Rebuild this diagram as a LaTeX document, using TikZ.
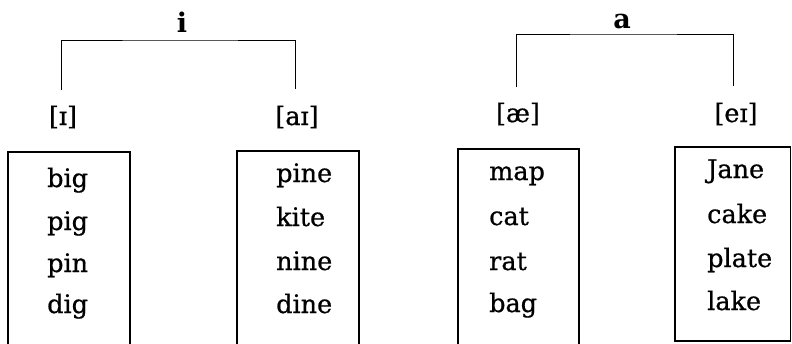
\documentclass[tikz,border=0pt]{standalone}
\usepackage{fontspec}
\setmainfont{DejaVu Serif}
% slightly heavier face for the word lists and sound labels
\newfontfamily\wordface{DejaVu Serif}[FakeBold=0.7]
\begin{document}
\begin{tikzpicture}[x=1pt,y=-1pt,
  frame/.style={line width=1.2pt},
  bracket/.style={line width=1pt},
  word/.style={anchor=base west, inner sep=0pt, font=\wordface\fontsize{25.5}{30}\selectfont},
  sound/.style={inner sep=0pt, font=\wordface\fontsize{25.5}{30}\selectfont},
  letter/.style={anchor=base, inner sep=0pt, font=\fontsize{27}{32}\selectfont\bfseries}]
\useasboundingbox (0,0) rectangle (792,343);

% spelling letters at the top
\node[letter] (li) at (182,32) {i};
\node[letter] (la) at (622,28) {a};

% sound labels
\node[sound] (s1) at (63,117) {[ɪ]};
\node[sound] (s2) at (297,117) {[aɪ]};
\node[sound] (s3) at (518,114) {[æ]};
\node[sound] (s4) at (736,114) {[eɪ]};

% brackets joining each letter to its two sounds
\coordinate (iT) at (182,40);
\coordinate (iL) at (61,90);
\coordinate (iR) at (295,89);
\draw[bracket] (iL) |- (iT) -| (iR);
\coordinate (aT) at (622,34);
\coordinate (aL) at (516,87);
\coordinate (aR) at (733,86);
\draw[bracket] (aL) |- (aT) -| (aR);

% word boxes
\draw[frame] (8,344) |- (130,152) -- (130,344);
\draw[frame] (237,344) |- (359,151) -- (359,344);
\draw[frame] (458,344) |- (579,149) -- (579,344);
\draw[frame] (675,147) rectangle (790.5,341);

% words
\node[word] (w11) at (47,187) {big};
\node[word] (w12) at (47,230) {pig};
\node[word] (w13) at (47,272) {pin};
\node[word] (w14) at (47,313) {dig};

\node[word] (w21) at (276,182) {pine};
\node[word] (w22) at (276,226) {kite};
\node[word] (w23) at (276,270) {nine};
\node[word] (w24) at (276,313) {dine};

\node[word] (w31) at (489,180) {map};
\node[word] (w32) at (489,225) {cat};
\node[word] (w33) at (489,270) {rat};
\node[word] (w34) at (489,312) {bag};

\node[word] (w41) at (707,178) {Jane};
\node[word] (w42) at (707,223) {cake};
\node[word] (w43) at (707,267) {plate};
\node[word] (w44) at (707,310) {lake};
\end{tikzpicture}
\end{document}
